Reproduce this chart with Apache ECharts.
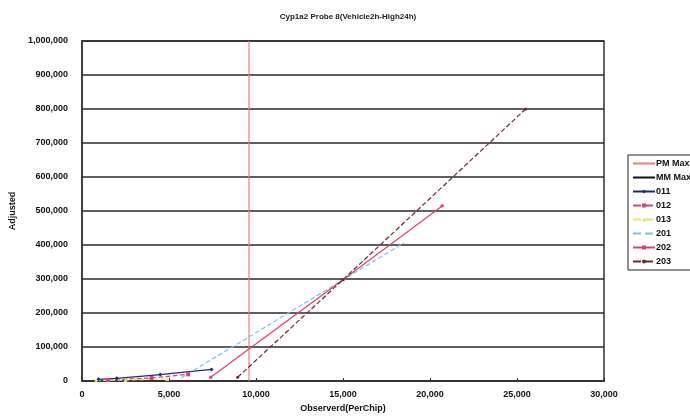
<!DOCTYPE html>
<html>
<head>
<meta charset="utf-8">
<script src="https://cdn.jsdelivr.net/npm/echarts@6/dist/echarts.min.js"></script>
<style>
  html, body { margin: 0; padding: 0; background: #fff; }
  #chart { width: 690px; height: 420px; }
</style>
</head>
<body>
<div id="chart"></div>
<script>
// Observed (per chip) vs adjusted signal for each sample
const seriesNames = ['PM Max', 'MM Max', '011', '012', '013', '201', '202', '203'];
const pmMax = [[9600, 0], [9600, 1000000]];
const mmMax = [];
const s011 = [[950, 5000], [2000, 8000], [4500, 19000], [7450, 34000]];
const s012 = [[1500, 3000], [4000, 9000], [6100, 19500]];
const s013 = [[800, 1000], [2500, 3000], [4900, 6000]];
const s201 = [[5700, 8800], [18500, 406000]];
const s202 = [[7400, 11000], [15000, 298000], [20700, 515000]];
const s203 = [[8950, 11000], [15000, 298000], [25500, 800000]];

const fmt = v => v.toLocaleString('en-US');
const font = 'Liberation Sans, Arial, sans-serif';

const chart = echarts.init(document.getElementById('chart'));

function lineSeries(name, data, color, type, symbol, size) {
  return {
    name: name, type: 'line', data: data,
    symbol: symbol, symbolSize: size, showSymbol: symbol !== 'none',
    itemStyle: { color: color },
    lineStyle: { color: color, width: 1.2, type: type },
    emphasis: { disabled: true }, animation: false
  };
}

// legend entries: series without markers get a plain line icon
const noMarker = ['PM Max', 'MM Max', '201'];
const legendData = seriesNames.map(n => noMarker.includes(n)
  ? { name: n, itemStyle: { opacity: 0 } }
  : { name: n });

chart.setOption({
  backgroundColor: '#fff',
  title: {
    text: 'Cyp1a2 Probe 8(Vehicle2h-High24h)',
    left: 343, top: 8, textAlign: 'center',
    textStyle: { fontFamily: font, fontSize: 8, fontWeight: 'bold', color: '#222' }
  },
  grid: { left: 80, right: 86, top: 41, bottom: 39, show: true, borderColor: '#333', borderWidth: 1.5 },
  legend: {
    orient: 'vertical', left: 628, top: 155,
    data: legendData,
    itemWidth: 22, itemHeight: 5, itemGap: 5,
    borderColor: '#222', borderWidth: 1, padding: [4, 6, 4, 4],
    backgroundColor: '#fff',
    textStyle: { fontFamily: font, fontSize: 9, fontWeight: 'bold', color: '#111', padding: [0, 0, 0, -4] }
  },
  xAxis: {
    type: 'value', min: 0, max: 30000, interval: 5000,
    name: 'Observerd(PerChip)', nameLocation: 'middle', nameGap: 22,
    nameTextStyle: { fontFamily: font, fontSize: 9, fontWeight: 'bold', color: '#111' },
    axisLine: { lineStyle: { color: '#333', width: 1.5 } },
    axisTick: { inside: true, length: 3, lineStyle: { color: '#333' } },
    axisLabel: { formatter: fmt, fontFamily: font, fontSize: 9, fontWeight: 'bold', color: '#111', margin: 9 },
    splitLine: { show: false }
  },
  yAxis: {
    type: 'value', min: 0, max: 1000000, interval: 100000,
    name: 'Adjusted', nameLocation: 'middle', nameGap: 62, nameRotate: 90,
    nameTextStyle: { fontFamily: font, fontSize: 9, fontWeight: 'bold', color: '#111' },
    axisLine: { show: true, lineStyle: { color: '#333', width: 1.5 } },
    axisTick: { show: false },
    axisLabel: { formatter: fmt, fontFamily: font, fontSize: 9, fontWeight: 'bold', color: '#111', margin: 14 },
    splitLine: { show: true, lineStyle: { color: '#2a2a2a', width: 1.6 } }
  },
  series: [
    lineSeries('PM Max', pmMax, '#f27b7b', 'solid', 'none', 0),
    lineSeries('MM Max', mmMax, '#111111', 'solid', 'none', 0),
    lineSeries('011', s011, '#1c2a80', 'solid', 'diamond', 4),
    lineSeries('012', s012, '#d8407a', 'dashed', 'rect', 4),
    lineSeries('013', s013, '#f0e070', 'dashed', 'triangle', 4),
    lineSeries('201', s201, '#78c4e4', 'dashed', 'none', 0),
    lineSeries('202', s202, '#e83a78', 'solid', 'rect', 3),
    lineSeries('203', s203, '#6b2a24', 'dashed', 'circle', 3)
  ]
});
</script>
</body>
</html>
